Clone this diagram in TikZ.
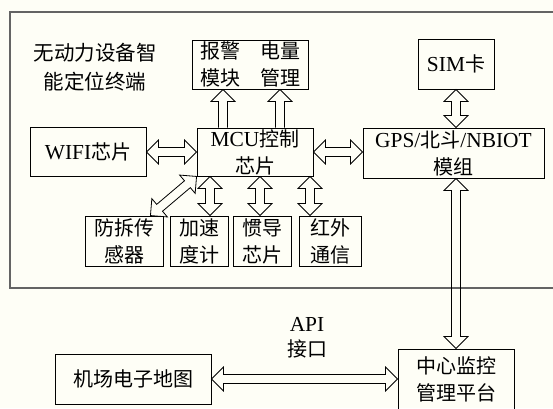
\documentclass[tikz,border=0pt]{standalone}
\usepackage{fontspec}
\setmainfont{Liberation Serif}[Scale=1.07]
\newfontfamily\cjkfont{Noto Sans CJK SC}
\usepackage{tikz}
\usetikzlibrary{calc,positioning}
\definecolor{paper}{RGB}{254,254,246}
\definecolor{framegray}{RGB}{100,100,100}

\newcommand{\zh}[1]{{\cjkfont #1}}
\newcommand{\headlen}{12pt}
\newcommand{\headwid}{12pt}
\newcommand{\shaftwid}{4.5pt}

% hollow arrow, heads at both ends
\newcommand{\twoway}[2]{%
  \coordinate (s1) at ($(#1)!\headlen!(#2)$);
  \coordinate (s2) at ($(#2)!\headlen!(#1)$);
  \draw[blockarrow] (#1) -- ($(s1)!\headwid!90:(#2)$) -- ($(s1)!\shaftwid!90:(#2)$)
    -- ($(s2)!\shaftwid!-90:(#1)$) -- ($(s2)!\headwid!-90:(#1)$) -- (#2)
    -- ($(s2)!\headwid!90:(#1)$) -- ($(s2)!\shaftwid!90:(#1)$)
    -- ($(s1)!\shaftwid!-90:(#2)$) -- ($(s1)!\headwid!-90:(#2)$) -- cycle;
}
% hollow arrow, head at the second end
\newcommand{\oneway}[2]{%
  \coordinate (s2) at ($(#2)!\headlen!(#1)$);
  \draw[blockarrow] ($(#1)!\shaftwid!90:(#2)$)
    -- ($(s2)!\shaftwid!-90:(#1)$) -- ($(s2)!\headwid!-90:(#1)$) -- (#2)
    -- ($(s2)!\headwid!90:(#1)$) -- ($(s2)!\shaftwid!90:(#1)$)
    -- ($(#1)!\shaftwid!-90:(#2)$);
}

\begin{document}
\begin{tikzpicture}[x=1pt, y=1pt,
  box/.style={draw, line width=0.9pt, inner sep=0pt, align=center, font=\fontsize{20}{27}\selectfont},
  blockarrow/.style={draw, line width=0.8pt, line join=miter}]

\fill[paper] (0,0) rectangle (553,408);
\useasboundingbox (0,0) rectangle (553,408);

% terminal frame
\draw[framegray, line width=1.3pt] (570,120) -- (10,120) -- (10,396) -- (570,396);
\node[align=center, font=\fontsize{20.5}{29}\selectfont] (title) at (95,340.5) {\zh{无动力设备智}\\\zh{能定位终端}};

% modules
\node[box, minimum width=116pt, minimum height=49pt] (alarm) at (250,343.5) {\zh{报警\quad 电量}\\\zh{模块\quad 管理}};
\node[box, minimum width=116pt, minimum height=48pt] (mcu) at (255,256) {MCU\zh{控制}\\\zh{芯片}};
\node[box, minimum width=116pt, minimum height=49pt] (wifi) at (88,256) {WIFI\zh{芯片}};
\node[box, minimum width=181pt, minimum height=50pt] (gps) at (453.5,255) {GPS/\zh{北斗}/NBIOT\\\zh{模组}};
\node[box, minimum width=76pt, minimum height=50pt] (sim) at (456,344) {SIM\zh{卡}};
\node[box, minimum width=78pt, minimum height=50pt] (tamper) at (124,167) {\zh{防拆传}\\\zh{感器}};
\node[box, minimum width=58pt, minimum height=50pt] (accel) at (199,167) {\zh{加速}\\\zh{度计}};
\node[box, minimum width=58pt, minimum height=50pt] (inertial) at (262,167) {\zh{惯导}\\\zh{芯片}};
\node[box, minimum width=62pt, minimum height=50pt] (infrared) at (330,167) {\zh{红外}\\\zh{通信}};

% platform side
\node[box, minimum width=116pt, minimum height=60pt] (monitor) at (456,29) {\zh{中心监控}\\\zh{管理平台}};
\node[box, minimum width=156pt, minimum height=50pt] (map) at (133,29) {\zh{机场电子地图}};
\node[align=center, font=\fontsize{20}{25}\selectfont] (api) at (307,70.5) {API\\\zh{接口}};

% arrows
\coordinate (up1) at ([xshift=-32pt]mcu.north);
\coordinate (up1t) at (up1 |- alarm.south);
\coordinate (up2) at ([xshift=25pt]mcu.north);
\coordinate (up2t) at (up2 |- alarm.south);
\oneway{up1}{up1t}
\oneway{up2}{up2t}

\twoway{wifi.east}{mcu.west}
\coordinate (gpsin) at (mcu.east -| gps.west);
\twoway{mcu.east}{gpsin}
\coordinate (simout) at (sim.south |- gps.north);
\twoway{sim.south}{simout}

\coordinate (d1) at ([xshift=11pt]accel.north);
\coordinate (d2) at ([xshift=-2pt]inertial.north);
\coordinate (d3) at ([xshift=-20pt]infrared.north);
\foreach \k in {1,2,3} {
  \coordinate (u\k) at (d\k |- mcu.south);
  \twoway{u\k}{d\k}
}
\coordinate (tamperin) at ([xshift=-13pt]tamper.north east);
\twoway{mcu.south west}{tamperin}

\coordinate (gpsout) at (monitor.north |- gps.south);
\twoway{gpsout}{monitor.north}
\coordinate (mapin) at (monitor.west |- map.east);
\twoway{map.east}{mapin}

\end{tikzpicture}
\end{document}
